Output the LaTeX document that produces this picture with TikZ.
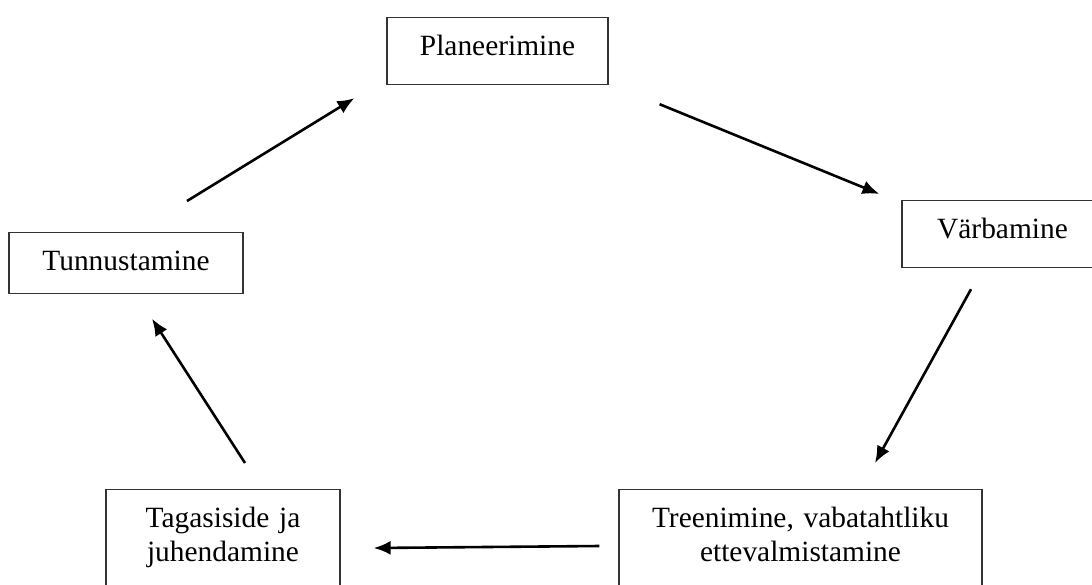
\documentclass[tikz,border=0pt]{standalone}
\usepackage{fontspec}
\setmainfont{Liberation Serif}
\usetikzlibrary{arrows.meta}

\tikzset{
	stage/.style = {draw = black!80, line width = 1.2pt, anchor = north, inner xsep = 0pt, inner ysep = 8pt,
		text height = 29.5pt, text depth = 21pt, font = \fontsize{29.4pt}{34.5pt}\selectfont},
	twoline/.style = {align = center, text depth = 60pt},
	flow/.style = {->, line width = 2.6pt}
}

\begin{document}
\begin{tikzpicture}[x = 1pt, y = -1pt, > = {Latex[length = 17pt, width = 14pt]}]

	% Page frame
	
	\clip (0, 0) rectangle (1092, 584);
	
	% Stages of the cycle
	
	\node [stage, minimum width = 221pt] (plan) at (497.5, 17) {Planeerimine};
	\node [stage, minimum width = 201pt] (varb) at (1002.5, 200) {Värbamine};
	\node [stage, twoline, text width = 363pt] (treen) at (800.5, 489) {Treenimine, vabatahtliku\\ ettevalmistamine};
	\node [stage, twoline, text width = 234pt] (tagasi) at (223, 489) {Tagasiside ja\\ juhendamine};
	\node [stage, minimum width = 234pt, text depth = 15pt] (tunn) at (126, 232) {Tunnustamine};
	
	% Arrows between stages
	
	\draw [flow] ([shift = {(51, 19.5)}] plan.south east) -- ([shift = {(-22, -6)}] varb.north west);
	\draw [flow] ([shift = {(-31.5, 21.5)}] varb.south) -- ([shift = {(74.5, -26)}] treen.north);
	\draw [flow] ([shift = {(-19, 57)}] treen.north west) -- ([shift = {(33, 59)}] tagasi.north east);
	\draw [flow] ([shift = {(22, -26)}] tagasi.north) -- ([shift = {(26, 25)}] tunn.south);
	\draw [flow] ([shift = {(61, -31)}] tunn.north) -- ([shift = {(-32, 13.5)}] plan.south west);
	
\end{tikzpicture}
\end{document}
